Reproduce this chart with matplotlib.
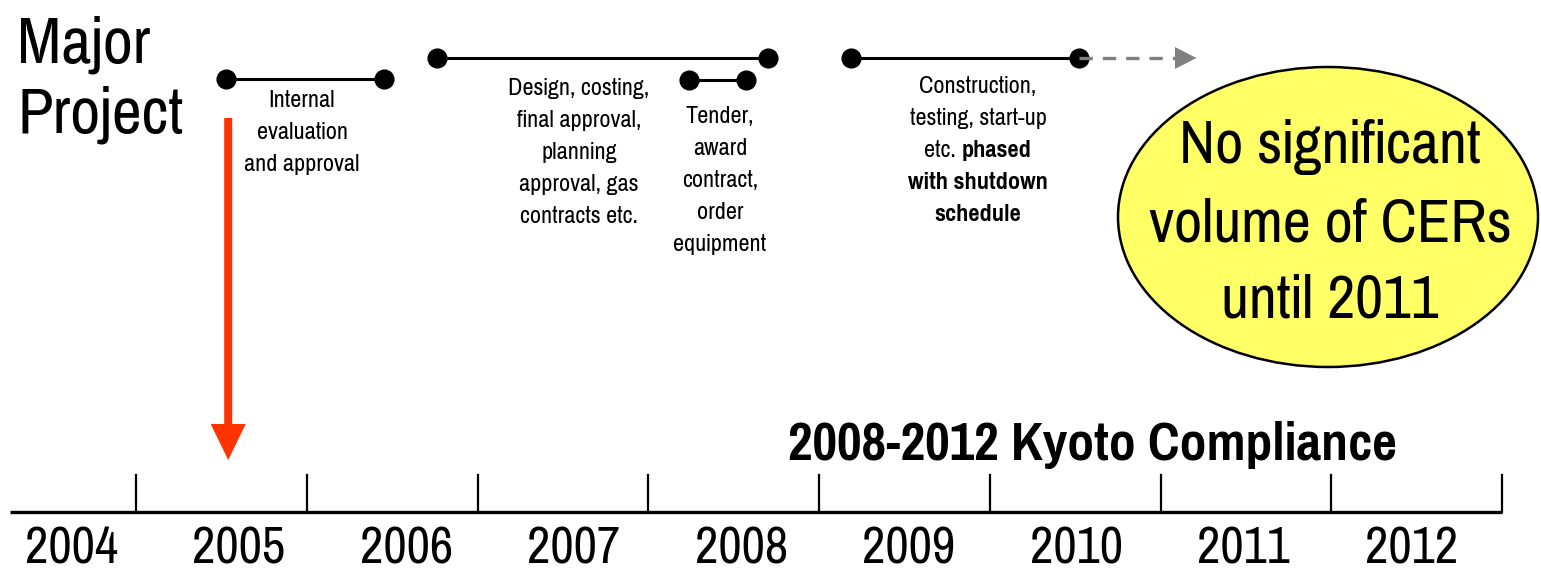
import matplotlib
matplotlib.use('Agg')
import matplotlib.pyplot as plt
from matplotlib.patches import Ellipse, FancyArrow

# timeline data (x in years)
YEARS = [2004, 2005, 2006, 2007, 2008, 2009, 2010, 2011, 2012]
YEAR_BOUNDS = [2005, 2006, 2007, 2008, 2009, 2010, 2011, 2012, 2013]

PHASE_TEXT = [
    ['Internal', 'evaluation', 'and approval'],
    ['Design, costing,', 'final approval,', 'planning', 'approval, gas', 'contracts etc.'],
    ['Tender,', 'award', 'contract,', 'order', 'equipment'],
    ['Construction,', 'testing, start-up', 'etc. |phased', '*with shutdown', '*schedule'],
]
PHASE_START = [2005.53, 2006.76, 2008.24, 2009.19]
PHASE_END = [2006.45, 2008.70, 2008.57, 2010.52]
EXTENSION_END = 2011.21      # dashed "continues" arrow
DECISION_YEAR = 2005.54      # red arrow

# layout (pixel rows, 0 = top)
PHASE_ROW = [79, 58, 80, 58]
PHASE_TEXT_X = [302, 579, 720, 978]
PHASE_TEXT_TOP = [107, 95, 123, 93]
LINE_STEP = 32

FONT = ['Pragati Narrow', 'Liberation Sans', 'DejaVu Sans']
RED = '#FF3300'
YELLOW = '#FFFF66'
GRAY = '#808080'

W, H = 1541, 571
PX0 = 136
PX_PER_YEAR = 170.75


def px_to_year(px):
    return 2005 + (px - PX0) / PX_PER_YEAR


def main():
    plt.rcParams['font.family'] = FONT
    fig = plt.figure(figsize=(W / 100, H / 100), dpi=100)
    ax = fig.add_axes([0, 0, 1, 1])
    ax.set_xlim(px_to_year(0), px_to_year(W))
    ax.set_ylim(H, 0)
    ax.axis('off')

    # main axis line + year ticks
    ax.plot([px_to_year(10), YEAR_BOUNDS[-1]], [512, 512], color='black', lw=2.4,
            solid_capstyle='butt')
    for b in YEAR_BOUNDS:
        ax.plot([b, b], [475, 512], color='black', lw=1.6)
    for y in YEARS:
        ax.text(y + 0.62 - 0.019 * (y - 2004), 564, str(y), ha='center', va='baseline',
                fontsize=40)

    ax.text(px_to_year(1092), 460, '2008-2012 Kyoto Compliance', ha='center',
            va='baseline', fontsize=42, fontweight='bold')

    ax.text(px_to_year(17), 62, 'Major', ha='left', va='baseline', fontsize=51)
    ax.text(px_to_year(17), 133, 'Project', ha='left', va='baseline', fontsize=51)

    # dashed continuation arrow (behind the last dot)
    ax.plot([PHASE_END[3], px_to_year(1176)], [58, 58], color=GRAY, lw=2.4,
            dashes=(4, 3), zorder=4)
    ax.fill([px_to_year(1175), px_to_year(1175), EXTENSION_END], [47, 69, 58],
            color=GRAY, lw=0, zorder=4)

    # phase bars
    for s, e, row in zip(PHASE_START, PHASE_END, PHASE_ROW):
        ax.plot([s, e], [row, row], color='black', lw=2.2, zorder=3)
        ax.plot([s, e], [row, row], 'o', color='black', ms=13.5, zorder=3)

    # phase descriptions
    fig.canvas.draw()
    renderer = fig.canvas.get_renderer()
    for lines, cx, top in zip(PHASE_TEXT, PHASE_TEXT_X, PHASE_TEXT_TOP):
        for i, line in enumerate(lines):
            yb = top + i * LINE_STEP
            x = px_to_year(cx)
            if '|' in line:
                a, b = line.split('|')
                ta = ax.text(0, yb, a, fontsize=19, va='baseline')
                tb = ax.text(0, yb, b, fontsize=19, fontweight='bold', va='baseline')
                wa = ta.get_window_extent(renderer).width
                wb = tb.get_window_extent(renderer).width
                left = cx - (wa + wb) / 2
                ta.set_x(px_to_year(left))
                tb.set_x(px_to_year(left + wa))
            elif line.startswith('*'):
                ax.text(x, yb, line[1:], ha='center', va='baseline', fontsize=19,
                        fontweight='bold')
            else:
                ax.text(x, yb, line, ha='center', va='baseline', fontsize=19)

    # red decision arrow
    ax.add_patch(FancyArrow(DECISION_YEAR, 118, 0, 342, width=8 / PX_PER_YEAR,
                            head_width=35 / PX_PER_YEAR, head_length=36,
                            length_includes_head=True, color=RED, lw=0))

    # CER bubble
    ax.add_patch(Ellipse((px_to_year(1328), 217), 420 / PX_PER_YEAR, 300,
                         facecolor=YELLOW, edgecolor='black', lw=1.8, zorder=2))
    for txt, yb in zip(['No significant', 'volume of CERs', 'until 2011'], [163, 241, 318]):
        ax.text(px_to_year(1330), yb, txt, ha='center', va='baseline', fontsize=48, zorder=5)

    fig.savefig('out.png', dpi=100)
    plt.close(fig)


if __name__ == '__main__':
    main()
